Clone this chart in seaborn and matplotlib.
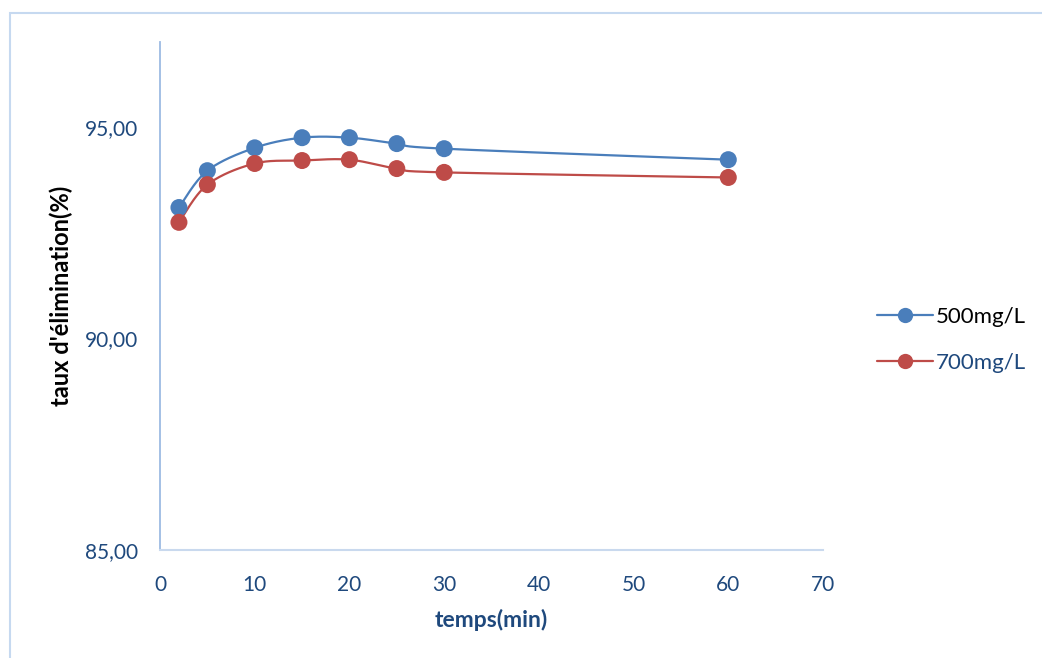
import numpy as np
import pandas as pd
import matplotlib
matplotlib.use("Agg")
import matplotlib.pyplot as plt
from matplotlib.patches import Rectangle
import seaborn as sns

# Removal rate over contact time for two initial concentrations
temps = [2, 5, 10, 15, 20, 25, 30, 60]
taux_500 = [93.09, 93.96, 94.50, 94.74, 94.74, 94.60, 94.48, 94.22]
taux_700 = [92.74, 93.63, 94.13, 94.20, 94.22, 94.01, 93.92, 93.80]
series_names = ["500mg/L", "700mg/L"]
colors = ["#4a7ebb", "#be4b48"]

sns.set_theme(style="white")
plt.rcParams["font.family"] = ["Lato", "DejaVu Sans"]

TICK_COLOR = "#1f497d"


def smooth_curve(x, y, n=40):
    """Piecewise cubic Bezier through the points (spreadsheet-style smoothing)."""
    x = np.asarray(x, float)
    y = np.asarray(y, float)
    pts = np.column_stack([x, y])
    out = []
    t = np.linspace(0, 1, n)[:, None]
    for i in range(len(pts) - 1):
        p0 = pts[i]
        p3 = pts[i + 1]
        prev = pts[i - 1] if i > 0 else pts[i]
        nxt = pts[i + 2] if i + 2 < len(pts) else pts[i + 1]
        p1 = p0 + (p3 - prev) / 6.0
        p2 = p3 - (nxt - p0) / 6.0
        seg = ((1 - t) ** 3) * p0 + 3 * ((1 - t) ** 2) * t * p1 \
            + 3 * (1 - t) * t ** 2 * p2 + t ** 3 * p3
        out.append(seg if i == 0 else seg[1:])
    arr = np.vstack(out)
    return arr[:, 0], arr[:, 1]


points = pd.DataFrame({
    "temps": temps * 2,
    "taux": taux_500 + taux_700,
    "serie": [series_names[0]] * len(temps) + [series_names[1]] * len(temps),
})

curves = []
for name, vals in zip(series_names, [taux_500, taux_700]):
    cx, cy = smooth_curve(temps, vals)
    curves.append(pd.DataFrame({"temps": cx, "taux": cy, "serie": name}))
curves = pd.concat(curves, ignore_index=True)

fig = plt.figure(figsize=(10.42, 6.58), dpi=100)
ax = fig.add_axes([160 / 1042, 1 - 550 / 658, (823 - 160) / 1042, (550 - 42) / 658])

palette = dict(zip(series_names, colors))
sns.lineplot(data=curves, x="temps", y="taux", hue="serie", palette=palette,
             sort=False, estimator=None, linewidth=1.6, ax=ax, legend=False)
sns.scatterplot(data=points, x="temps", y="taux", hue="serie", palette=palette,
                s=150, edgecolor="none", ax=ax, legend=False, zorder=3)

ax.set_xlim(0, 70)
ax.set_ylim(85, 97)
ax.set_xticks(range(0, 71, 10))
ax.set_yticks([85, 90, 95])
ax.set_yticklabels([f"{v:.2f}".replace(".", ",") for v in [85, 90, 95]])
ax.tick_params(axis="both", length=0, labelsize=15, colors=TICK_COLOR)
ax.tick_params(axis="x", pad=18)
ax.tick_params(axis="y", pad=16)

ax.set_xlabel("temps(min)", fontsize=16.5, fontweight="bold", color=TICK_COLOR, labelpad=10)
ax.set_ylabel("taux d'élimination(%)", fontsize=17, fontweight="bold", color="black", labelpad=8)

for side in ["top", "right"]:
    ax.spines[side].set_visible(False)
ax.spines["left"].set_color("#9dbbe3")
ax.spines["left"].set_linewidth(1.3)
ax.spines["bottom"].set_color("#c9d9ee")
ax.spines["bottom"].set_linewidth(1.5)

# Legend with line-and-marker handles
handles = [plt.Line2D([], [], color=c, linewidth=1.6, marker="o", markersize=11,
                      markeredgewidth=0) for c in colors]
leg = fig.legend(handles, series_names, loc="center left",
                 bbox_to_anchor=(857 / 1042, 1 - 340 / 658), frameon=False,
                 fontsize=16, handlelength=2.5, handletextpad=0.15, labelspacing=1.15)
leg.get_texts()[0].set_color("black")
leg.get_texts()[1].set_color(TICK_COLOR)

# Chart area border
fig.patches.append(Rectangle((10 / 1042, -0.1), 1.2, 1 - 13 / 658 + 0.1,
                             transform=fig.transFigure, fill=False,
                             edgecolor="#c6d9f0", linewidth=1.5))

fig.savefig("out.png", dpi=100)
